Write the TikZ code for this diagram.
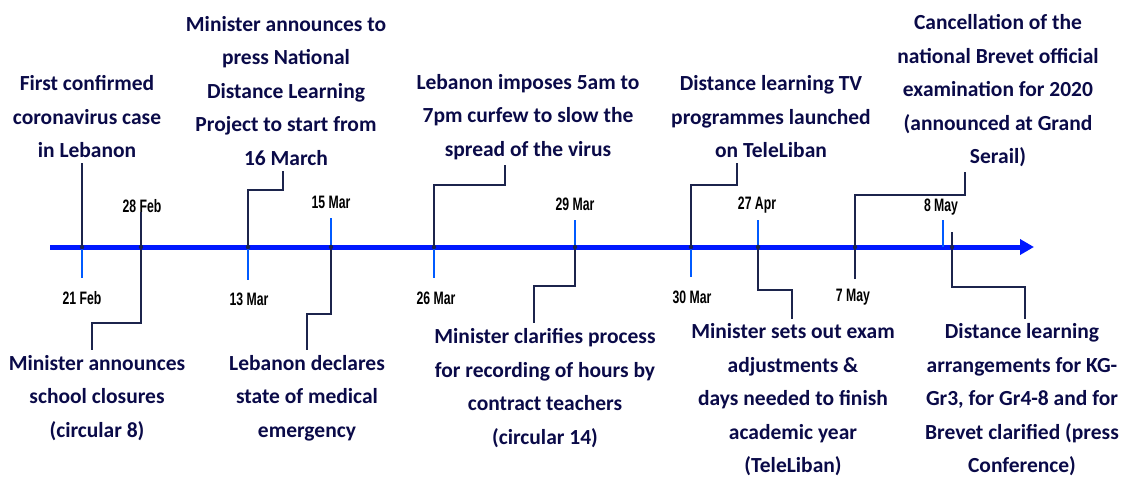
\documentclass[tikz,border=0pt]{standalone}
\usepackage{fontspec}
\setmainfont{Carlito}
\newfontfamily\datefont{Liberation Sans}[FakeStretch=0.68]
\usetikzlibrary{arrows.meta}
\definecolor{txtblue}{RGB}{10,10,72}
\definecolor{axisblue}{RGB}{0,25,255}
\definecolor{tickblue}{RGB}{0,90,255}
\definecolor{connnavy}{RGB}{28,36,76}
\begin{document}
\begin{tikzpicture}[x=1pt,y=-1pt,
 evt/.style={font=\fontsize{21.5}{33.5}\selectfont\bfseries, text=txtblue, align=center, inner sep=5pt},
 datelbl/.style={font=\datefont\bfseries\fontsize{18}{18}\selectfont, text=black, inner sep=0pt},
 tickline/.style={draw=tickblue, line width=2pt},
 axisline/.style={draw=axisblue, line width=5pt, -{Triangle[length=14pt,width=15pt]}},
 conn/.style={draw=connnavy, line width=1.3pt},
 axdot/.style={circle, fill=connnavy, inner sep=0pt, minimum size=4.5pt},
]
\useasboundingbox (0,0) rectangle (1125,477);

% axis
\coordinate (axstart) at (50,247);
\coordinate (axend) at (1034,247);
\draw[axisline] (axstart) -- (axend);

% axis points
\coordinate (a21f) at (82,247);
\coordinate (a28f) at (141,247);
\coordinate (a13m) at (248,247);
\coordinate (a15m) at (331,247);
\coordinate (a26m) at (434,247);
\coordinate (a29m) at (575,247);
\coordinate (a30m) at (691,247);
\coordinate (a27a) at (758,247);
\coordinate (a7my) at (855,247);
\coordinate (a8my) at (943,247);
\coordinate (a8mc) at (952,247);

% tick ends
\coordinate (k21f) at (82,278);
\coordinate (k28f) at (141,212);
\coordinate (k13m) at (248,280);
\coordinate (k15m) at (331,218);
\coordinate (k26m) at (434,278);
\coordinate (k29m) at (575,220);
\coordinate (k30m) at (691,277);
\coordinate (k27a) at (758,220);
\coordinate (k7my) at (855,279);
\coordinate (k8my) at (943,220);
\coordinate (k8mc) at (952,232);

\foreach \t in {21f,28f,13m,15m,26m,29m,30m,27a,7my,8my}{
  \draw[tickline] (a\t) -- (k\t);
}

% date labels
\node[datelbl] (d21f) at (82,298) {21 Feb};
\node[datelbl] (d28f) at (142,206) {28 Feb};
\node[datelbl] (d13m) at (249,299) {13 Mar};
\node[datelbl] (d15m) at (331,202) {15 Mar};
\node[datelbl] (d26m) at (436,298) {26 Mar};
\node[datelbl] (d29m) at (575,204) {29 Mar};
\node[datelbl] (d30m) at (692,297) {30 Mar};
\node[datelbl] (d27a) at (757,205) {27 Apr};
\node[datelbl] (d7my) at (853,297) {7 May};
\node[datelbl] (d8my) at (941,207) {8 May};

% event texts
\node[evt] (e1) at (87,117) {First confirmed\\coronavirus case\\in Lebanon};
\node[evt] (e2) at (286,91) {Minister announces to\\press National\\Distance Learning\\Project to start from\\16 March};
\node[evt] (e3) at (528,117) {Lebanon imposes 5am to\\7pm curfew to slow the\\spread of the virus};
\node[evt] (e4) at (771,117) {Distance learning TV\\programmes launched\\on TeleLiban};
\node[evt] (e5) at (998,91) {Cancellation of the\\national Brevet official\\examination for 2020\\(announced at Grand\\Serail)};
\node[evt] (e6) at (97,398) {Minister announces\\school closures\\(circular 8)};
\node[evt] (e7) at (307,398) {Lebanon declares\\state of medical\\emergency};
\node[evt] (e8) at (545,388) {Minister clarifies process\\for recording of hours by\\contract teachers\\(circular 14)};
\node[evt] (e9) at (793,400) {Minister sets out exam\\adjustments \&\\days needed to finish\\academic year\\(TeleLiban)};
\node[evt] (e10) at (1022,400) {Distance learning\\arrangements for KG-\\Gr3, for Gr4-8 and for\\Brevet clarified (press\\Conference)};

% elbows
\coordinate (b28f) at (92,323);
\coordinate (b13m) at (283,190);
\coordinate (b15m) at (307,314);
\coordinate (b26m) at (505,185);
\coordinate (b29m) at (534,286);
\coordinate (b30m) at (737,185);
\coordinate (b27a) at (792,290);
\coordinate (b7my) at (965,195);
\coordinate (b8mc) at (1025,287);

% connectors
\draw[conn] (a21f) -- (a21f |- e1.south);
\draw[conn] (k28f) |- (b28f) -- (b28f |- e6.north);
\draw[conn] (a13m) |- (b13m) -- (b13m |- e2.south);
\draw[conn] (a15m) |- (b15m) -- (b15m |- e7.north);
\draw[conn] (a26m) |- (b26m) -- (b26m |- e3.south);
\draw[conn] (a29m) |- (b29m) -- (b29m |- e8.north);
\draw[conn] (a30m) |- (b30m) -- (b30m |- e4.south);
\draw[conn] (a27a) |- (b27a) -- (b27a |- e9.north);
\draw[conn] (k7my) |- (b7my) -- (b7my |- e5.south);
\draw[conn] (k8mc) |- (b8mc) -- (b8mc |- e10.north);

% dots
\foreach \t in {21f,28f,13m,15m,26m,29m,30m,27a,7my,8mc}{
  \node[axdot] at (a\t) {};
}
\end{tikzpicture}
\end{document}
